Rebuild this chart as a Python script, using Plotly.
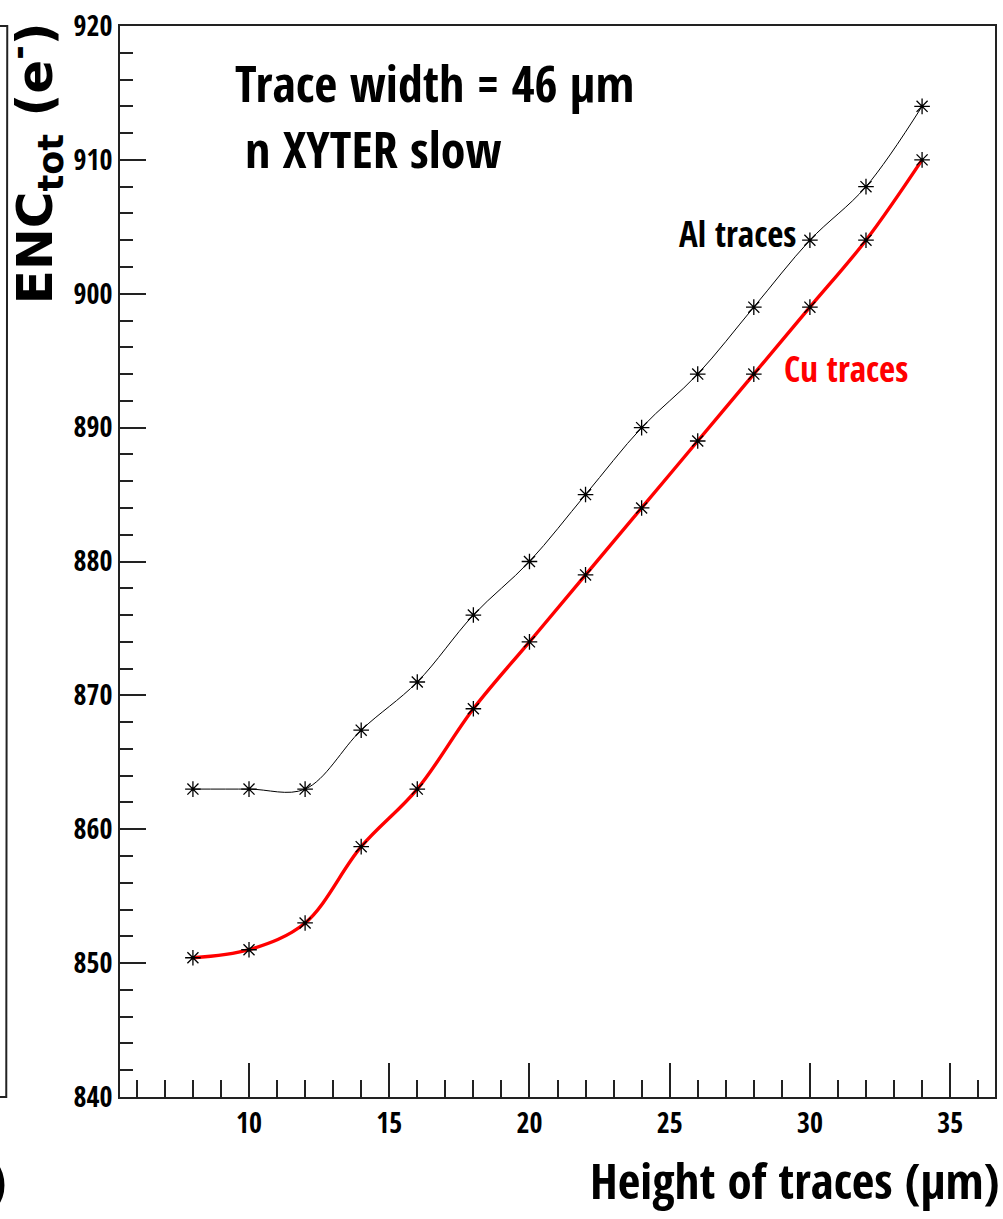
import plotly.graph_objects as go

# Trace heights (um) and total ENC (electrons) for both metal options
heights = [8, 10, 12, 14, 16, 18, 20, 22, 24, 26, 28, 30, 32, 34]
enc_al = [863, 863, 863, 867.4, 871, 876, 880, 885, 890, 894, 899, 904, 908, 914]
enc_cu = [850.4, 851, 853, 858.7, 863, 869, 874, 879, 884, 889, 894, 899, 904, 910]

x_ticks = [10, 15, 20, 25, 30, 35]
y_ticks = [840, 850, 860, 870, 880, 890, 900, 910, 920]

W, H = 1003, 1219
ML, MR, MT, MB = 120, 6, 22, 122
PW, PH = W - ML - MR, H - MT - MB


def px(xp):
    return (xp - ML) / PW


def py(yp):
    return (H - MB - yp) / PH


COND = "Open Sans Condensed, Roboto Condensed, Liberation Sans"
WIDE = "DejaVu Sans, Liberation Sans"

fig = go.Figure()

fig.add_trace(go.Scatter(
    x=heights, y=enc_al, mode="lines+markers",
    line=dict(color="black", width=1, shape="spline", smoothing=1.0),
    marker=dict(symbol="asterisk-open", size=13, color="black",
                line=dict(color="black", width=1.3)),
    showlegend=False,
))
fig.add_trace(go.Scatter(
    x=heights, y=enc_cu, mode="lines+markers",
    line=dict(color="#ff0000", width=3.4, shape="spline", smoothing=1.0),
    marker=dict(symbol="asterisk-open", size=13, color="black",
                line=dict(color="black", width=1.3)),
    showlegend=False,
))

axis_common = dict(
    showgrid=False, zeroline=False, showline=True, mirror=True,
    linecolor="#222", linewidth=2, ticks="inside", tickcolor="#222",
    tickwidth=1.5,
    tickfont=dict(family=COND, size=28, color="black", weight="bold"),
)

fig.update_xaxes(
    range=[5.4, 36.6], tickvals=x_ticks, ticktext=[str(v) for v in x_ticks],
    ticklen=34,
    minor=dict(ticks="inside", ticklen=17, dtick=1, tick0=0,
               tickcolor="#222", tickwidth=1.5),
    **axis_common,
)
fig.update_yaxes(
    range=[840, 920], tickvals=y_ticks, ticktext=[str(v) for v in y_ticks],
    ticklen=26,
    minor=dict(ticks="inside", ticklen=13, dtick=2, tick0=0,
               tickcolor="#222", tickwidth=1.5),
    **axis_common,
)

annotations = [
    dict(text="Trace width = 46 \u03bcm", x=px(233), y=py(79),
         xanchor="left", yanchor="middle",
         font=dict(family=COND, size=50, color="black", weight="bold")),
    dict(text="n XYTER slow", x=px(243), y=py(145),
         xanchor="left", yanchor="middle",
         font=dict(family=COND, size=50, color="black", weight="bold")),
    dict(text="Al traces", x=px(678), y=py(230),
         xanchor="left", yanchor="middle",
         font=dict(family=COND, size=35, color="black", weight="bold")),
    dict(text="Cu traces", x=px(784), y=py(366),
         xanchor="left", yanchor="middle",
         font=dict(family=COND, size=35, color="#ff0000", weight="bold")),
    dict(text="Height of traces (\u03bcm)", x=px(1003), y=py(1214),
         xanchor="right", yanchor="bottom", borderpad=0,
         font=dict(family=COND, size=49, color="black", weight="bold")),
    dict(text="ENC<sub>tot</sub> (e<sup>-</sup>)", x=px(35), y=py(16),
         xanchor="center", yanchor="top", textangle=-90,
         font=dict(family=WIDE, size=50, color="black", weight="bold")),
    dict(text=")", x=px(8), y=py(1180),
         xanchor="right", yanchor="middle",
         font=dict(family=COND, size=50, color="black", weight="bold")),
]
for a in annotations:
    a.update(xref="paper", yref="paper", showarrow=False)

# Edge of the neighbouring panel's frame on the left
fig.add_shape(
    type="path", xref="paper", yref="paper",
    path=f"M {px(-30)} 1 L {px(7)} 1 L {px(6)} 0 L {px(-30)} 0",
    line=dict(color="#222", width=2),
)

fig.update_layout(
    width=W, height=H,
    margin=dict(l=ML, r=MR, t=MT, b=MB, pad=0),
    paper_bgcolor="white", plot_bgcolor="white",
    annotations=annotations,
)

fig.write_html("out.html")
